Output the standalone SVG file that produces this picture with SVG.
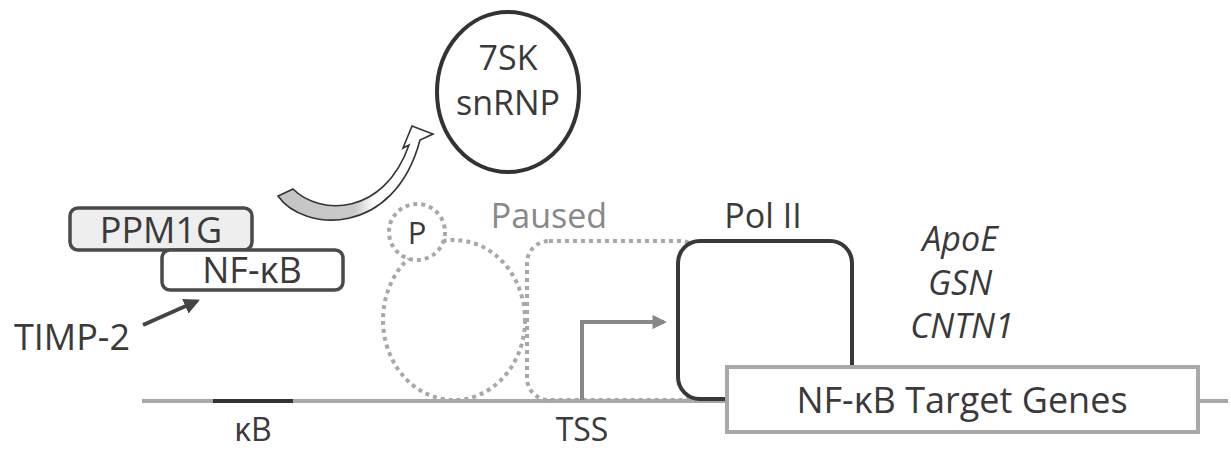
<svg xmlns="http://www.w3.org/2000/svg" width="1231" height="450" viewBox="0 0 1231 450">
  <style>
    text { font-family: "Open Sans", "DejaVu Sans", sans-serif; fill: #3a3a3a; text-anchor: middle; }
    .big { font-size: 36px; }
    .mid { font-size: 34px; }
    .low { font-size: 32px; }
    .gene { font-size: 34px; font-style: italic; }
    .dotted { fill: none; stroke: #a8a8a8; stroke-width: 4; stroke-dasharray: 4 4; }
    .box { stroke: #4a4a4a; stroke-width: 3.5; }
  </style>
  <defs>
    <marker id="headDark" viewBox="0 0 10 10" refX="8" refY="5" markerWidth="4" markerHeight="4" orient="auto">
      <path d="M0,0 L10,5 L0,10 Z" fill="#444"/>
    </marker>
    <marker id="headGray" viewBox="0 0 10 10" refX="8" refY="5" markerWidth="3.6" markerHeight="3.6" orient="auto">
      <path d="M0,0 L10,5 L0,10 Z" fill="#888"/>
    </marker>
    <linearGradient id="bandFill" x1="0" y1="0" x2="1" y2="0">
      <stop offset="0" stop-color="#c4c4c4"/>
      <stop offset="0.5" stop-color="#cacaca"/>
      <stop offset="0.62" stop-color="#ffffff"/>
      <stop offset="1" stop-color="#ffffff"/>
    </linearGradient>
  </defs>

  <rect width="1231" height="450" fill="#ffffff"/>

  <!-- DNA strand with the kB site -->
  <g id="dna">
    <line x1="142" y1="401" x2="1228" y2="401" stroke="#a8a8a8" stroke-width="4"/>
    <line x1="213" y1="401" x2="293" y2="401" stroke="#333" stroke-width="4"/>
    <text class="low" x="253" y="441">κB</text>
    <text class="low" x="582" y="441">TSS</text>
  </g>

  <!-- former positions of 7SK and Pol II (paused state) -->
  <g id="paused-state">
    <rect class="dotted" x="527" y="241" width="175" height="159" rx="22"/>
    <ellipse class="dotted" cx="454" cy="320" rx="71" ry="80"/>
    <circle cx="417" cy="232" r="28" fill="#fff" stroke="#a8a8a8" stroke-width="4" stroke-dasharray="4 4"/>
    <text x="417" y="244" style="font-size:31px">P</text>
    <text class="mid" x="549" y="228" style="fill:#888">Paused</text>
  </g>

  <!-- connectors -->
  <g id="connectors">
    <path d="M582,400 V322 H664" fill="none" stroke="#888" stroke-width="4" marker-end="url(#headGray)"/>
    <line x1="143" y1="325" x2="197" y2="301" stroke="#444" stroke-width="4" marker-end="url(#headDark)"/>
    <path d="M278,196 C303,232 394,238 420,140 L433,134 L412,126 L403,148 L409,145 C384,216 320,216 293,189 Z"
          fill="url(#bandFill)" stroke="#333" stroke-width="1.6" stroke-linejoin="miter"/>
  </g>

  <g id="snRNP-7SK">
    <ellipse cx="508" cy="92" rx="71" ry="80" fill="#fff" stroke="#333" stroke-width="4"/>
    <text class="mid" x="508" y="70">7SK</text>
    <text class="mid" x="508" y="115">snRNP</text>
  </g>

  <g id="ppm1g">
    <rect class="box" x="70" y="208" width="182" height="42" rx="8" fill="#eeeeee"/>
    <text class="big" x="161" y="243">PPM1G</text>
  </g>

  <g id="nfkb">
    <rect class="box" x="162" y="250" width="181" height="40" rx="8" fill="#ffffff"/>
    <text class="big" x="252" y="283">NF-κB</text>
  </g>

  <g id="timp2">
    <text class="big" x="72" y="350">TIMP-2</text>
  </g>

  <g id="pol-ii">
    <rect x="678" y="241" width="174" height="158" rx="22" fill="#ffffff" stroke="#383838" stroke-width="4"/>
    <text class="mid" x="763" y="228">Pol II</text>
  </g>

  <g id="gene-list">
    <text class="gene" x="960" y="251">ApoE</text>
    <text class="gene" x="960" y="295">GSN</text>
    <text class="gene" x="962" y="338">CNTN1</text>
  </g>

  <g id="target-genes">
    <rect x="727" y="367" width="471" height="65" fill="#ffffff" stroke="#a8a8a8" stroke-width="4"/>
    <text class="big" x="962" y="413">NF-κB Target Genes</text>
  </g>
</svg>
